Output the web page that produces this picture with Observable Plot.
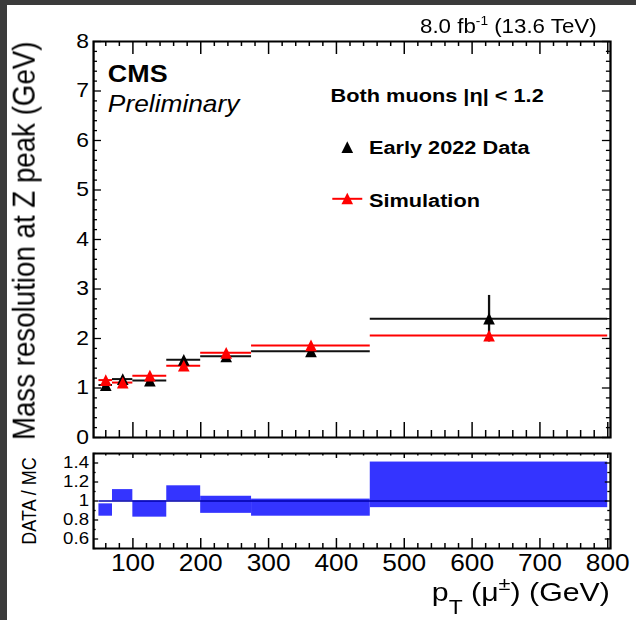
<!DOCTYPE html>
<html><head><meta charset="utf-8">
<script src="https://cdn.jsdelivr.net/npm/d3@7"></script>
<script src="https://cdn.jsdelivr.net/npm/@observablehq/plot@0.6"></script>
<style>
html,body{margin:0;padding:0;background:#fff;width:636px;height:620px;overflow:hidden;}
#wrap{position:absolute;left:0;top:0;width:556px;height:620px;transform:scaleX(1.14388);transform-origin:0 0;}
#main{position:absolute;left:0;top:0;}
#ratio{position:absolute;left:0;top:450px;}
#bl{position:absolute;left:0;top:0;width:7px;height:620px;background:#3b3b3b;}
#bt{position:absolute;left:0;top:0;width:636px;height:5px;background:#3b3b3b;}
</style></head><body>
<div id="wrap"><div id="main"></div><div id="ratio"></div></div>
<div id="bl"></div><div id="bt"></div>
<script>
// ---- data ----
const binLow  = [50, 70, 100, 150, 200, 275, 450];
const binHigh = [70, 100, 150, 200, 275, 450, 800];
const dataRes = [1.06, 1.18, 1.15, 1.57, 1.64, 1.74, 2.40];
const dataErr = [0.04, 0.05, 0.04, 0.05, 0.04, 0.05, 0.47];
const mcRes   = [1.16, 1.11, 1.25, 1.45, 1.71, 1.86, 2.06];
const ratioLow  = [0.84, 1.00, 0.83, 1.00, 0.87, 0.84, 0.93];
const ratioHigh = [0.97, 1.12, 1.00, 1.16, 1.05, 1.02, 1.41];
const xMajor = [100, 200, 300, 400, 500, 600, 700, 800];
const yMajor = [0, 1, 2, 3, 4, 5, 6, 7, 8];
const ratioTicks = [0.6, 0.8, 1, 1.2, 1.4];

// ---- layout ----
const W = 556, ML = 81.3, MR = 22.8;
const fw = W - ML - MR;
const H1 = 450, MT1 = 41, MB1 = 13, fh1 = H1 - MT1 - MB1;
const H2 = 170, MT2 = 3, MB2 = 72, fh2 = H2 - MT2 - MB2;
const xDomain = [42, 804];
const xMinor = d3.range(60, 801, 20).filter(v => v % 100 !== 0);
const yMinor = d3.range(1, 40).map(i => i / 5).filter(v => Math.abs(v - Math.round(v)) > 1e-6);
const rMinor = [0.5, 0.7, 0.9, 1.1, 1.3, 1.5];

const bins = binLow.map((lo, i) => ({
  lo, hi: binHigh[i], c: (lo + binHigh[i]) / 2,
  data: dataRes[i], err: dataErr[i], mc: mcRes[i],
  rlo: ratioLow[i], rhi: ratioHigh[i]
}));

const tri = {draw(ctx, size) {
  const r = Math.sqrt(size / Math.PI), w = r * 0.87;
  ctx.moveTo(0, -r); ctx.lineTo(w, r); ctx.lineTo(-w, r); ctx.closePath();
}};
const hline = {draw(ctx, size) {
  const r = Math.sqrt(size / Math.PI);
  ctx.moveTo(-r, 0); ctx.lineTo(r, 0);
}};

const font = "'Liberation Sans', Arial, Helvetica, sans-serif";
const tk = {stroke: "black", strokeWidth: 1.3};
const id = d => d;

const main = Plot.plot({
  width: W, height: H1, marginLeft: ML, marginRight: MR, marginTop: MT1, marginBottom: MB1,
  style: {fontFamily: font, background: "white", overflow: "visible", color: "black"},
  x: {domain: xDomain, axis: null},
  y: {domain: [0, 8]},
  marks: [
    Plot.tickX(xMajor, {x: id, insetTop: fh1 - 15, ...tk}),
    Plot.tickX(xMinor, {x: id, insetTop: fh1 - 7, ...tk}),
    Plot.tickX(xMajor, {x: id, insetBottom: fh1 - 13, ...tk}),
    Plot.tickX(xMinor, {x: id, insetBottom: fh1 - 5, ...tk}),
    Plot.tickY(yMajor, {y: id, insetRight: fw - 7, ...tk}),
    Plot.tickY(yMinor, {y: id, insetRight: fw - 3.5, ...tk}),
    Plot.tickY(yMajor, {y: id, insetLeft: fw - 7, ...tk}),
    Plot.tickY(yMinor, {y: id, insetLeft: fw - 3.5, ...tk}),
    Plot.axisY(yMajor, {tickSize: 0, tickPadding: 4, fontSize: 20, label: null, tickFormat: d => String(d)}),
    Plot.ruleY(bins, {x1: "lo", x2: "hi", y: "data", stroke: "#111", strokeWidth: 2}),
    Plot.ruleY(bins, {x1: "lo", x2: "hi", y: "mc", stroke: "#ff0000", strokeWidth: 2}),
    Plot.ruleX(bins, {x: "c", y1: d => d.data - d.err, y2: d => d.data + d.err, stroke: "#111", strokeWidth: 2}),
    Plot.dot(bins, {x: "c", y: "data", symbol: tri, r: 5.85, fill: "black", stroke: "none"}),
    Plot.dot(bins, {x: "c", y: "mc", symbol: tri, r: 5.85, fill: "#ff0000", stroke: "none"}),
    Plot.frame({stroke: "black", strokeWidth: 2}),
    // annotations
    Plot.text(["Mass resolution at Z peak (GeV)"], {text: id, frameAnchor: "top-left", rotate: -90, dx: 29.7 - ML, dy: 0, textAnchor: "end", lineAnchor: "bottom", fontSize: 27.7}),
    Plot.text(["CMS"], {text: id, frameAnchor: "top-left", dx: 12.5, dy: 40.7, textAnchor: "start", lineAnchor: "bottom", fontSize: 23.5, fontWeight: "bold"}),
    Plot.text(["Preliminary"], {text: id, frameAnchor: "top-left", dx: 12.5, dy: 70.7, textAnchor: "start", lineAnchor: "bottom", fontSize: 23, fontStyle: "italic"}),
    Plot.text(["Both muons |η| < 1.2"], {text: id, frameAnchor: "top-left", dx: 207.2, dy: 60.7, textAnchor: "start", lineAnchor: "bottom", fontSize: 19, fontWeight: "bold"}),
    Plot.text(["Early 2022 Data"], {text: id, frameAnchor: "top-left", dx: 240.7, dy: 112.3, textAnchor: "start", lineAnchor: "bottom", fontSize: 19, fontWeight: "bold"}),
    Plot.text(["Simulation"], {text: id, frameAnchor: "top-left", dx: 240.7, dy: 165, textAnchor: "start", lineAnchor: "bottom", fontSize: 19, fontWeight: "bold"}),
    Plot.dot([0], {frameAnchor: "top-left", dx: 221.8, dy: 105.7, symbol: tri, r: 5.85, fill: "black", stroke: "none"}),
    Plot.dot([0], {frameAnchor: "top-left", dx: 221.8, dy: 157.3, symbol: hline, r: 13.1, fill: "none", stroke: "#ff0000", strokeWidth: 2}),
    Plot.dot([0], {frameAnchor: "top-left", dx: 221.8, dy: 157, symbol: tri, r: 5.85, fill: "#ff0000", stroke: "none"})
  ]
});
document.getElementById("main").appendChild(main);
{
  const lumi = d3.select(main).append("text")
    .attr("x", W - MR - 11.6).attr("y", 33).attr("text-anchor", "end")
    .attr("font-size", 19.5).attr("fill", "black");
  lumi.append("tspan").text("8.0 fb");
  lumi.append("tspan").attr("font-size", 12).attr("dy", -8).text("-1");
  lumi.append("tspan").attr("dy", 8).text(" (13.6 TeV)");
}

const ratio = Plot.plot({
  width: W, height: H2, marginLeft: ML, marginRight: MR, marginTop: MT2, marginBottom: MB2,
  style: {fontFamily: font, background: "white", overflow: "visible", color: "black"},
  x: {domain: xDomain},
  y: {domain: [0.5, 1.5]},
  marks: [
    Plot.rect(bins, {x1: "lo", x2: "hi", y1: "rlo", y2: "rhi", fill: "#3434ff"}),
    Plot.ruleY([1], {x1: binLow[0], x2: binHigh[binHigh.length - 1], stroke: "#0000aa", strokeWidth: 1.6}),
    Plot.tickX(xMajor, {x: id, insetTop: fh2 - 10, ...tk}),
    Plot.tickX(xMinor, {x: id, insetTop: fh2 - 5, ...tk}),
    Plot.tickX(xMajor, {x: id, insetBottom: fh2 - 5, ...tk}),
    Plot.tickX(xMinor, {x: id, insetBottom: fh2 - 2.5, ...tk}),
    Plot.tickY(ratioTicks, {y: id, insetRight: fw - 4.5, ...tk}),
    Plot.tickY(rMinor, {y: id, insetRight: fw - 2.3, ...tk}),
    Plot.tickY(ratioTicks, {y: id, insetLeft: fw - 4.5, ...tk}),
    Plot.tickY(rMinor, {y: id, insetLeft: fw - 2.3, ...tk}),
    Plot.axisX(xMajor, {tickSize: 0, tickPadding: 6.5, fontSize: 23, label: null}),
    Plot.axisY(ratioTicks, {tickSize: 0, tickPadding: 4, fontSize: 16.3, label: null, tickFormat: d => String(d)}),
    Plot.frame({stroke: "black", strokeWidth: 2}),
    Plot.text(["DATA / MC"], {text: id, frameAnchor: "left", rotate: -90, dx: 30.6 - ML, textAnchor: "middle", lineAnchor: "bottom", fontSize: 18})
  ]
});
document.getElementById("ratio").appendChild(ratio);
{
  const xt = d3.select(ratio).append("text")
    .attr("x", W - MR).attr("y", 151.5).attr("text-anchor", "end")
    .attr("font-size", 26.5).attr("fill", "black");
  xt.append("tspan").text("p");
  xt.append("tspan").attr("font-size", 20).attr("dy", 13).text("T");
  xt.append("tspan").attr("dy", -13).text(" (μ");
  xt.append("tspan").attr("font-size", 19).attr("dy", -11).text("±");
  xt.append("tspan").attr("dy", 11).text(") (GeV)");
}
</script>
</body></html>
